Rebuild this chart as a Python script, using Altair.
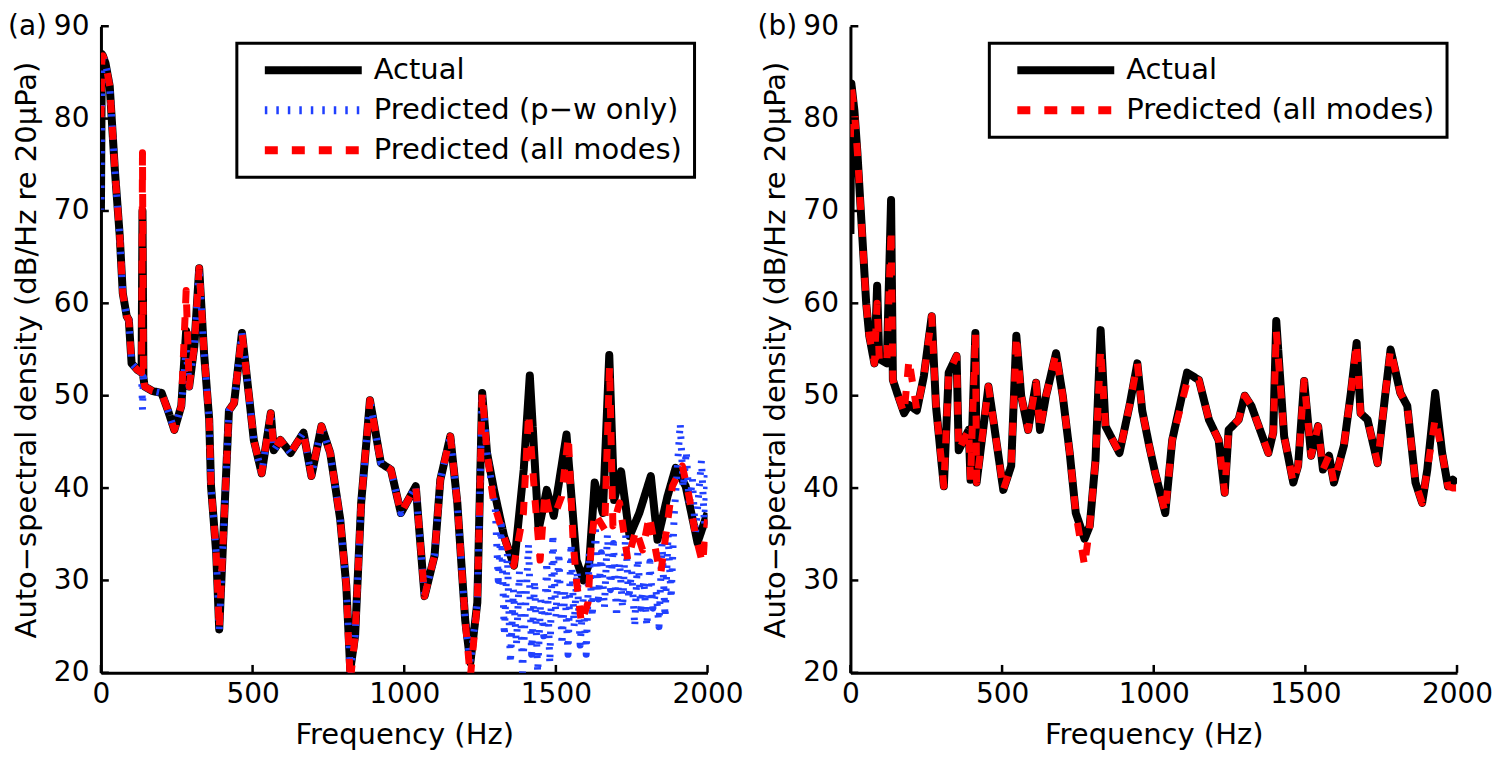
import altair as alt
import pandas as pd

FONT = "DejaVu Sans"

# ---------------- panel (a) : frequency (Hz) and level (dB)
a_actual_f = [0, 3, 6.5, 15, 29, 46, 62, 72, 85, 92, 101, 120, 134, 137, 140, 144, 170, 200, 220, 242,
              265, 281, 291, 308, 324, 340, 357, 363, 380, 390, 406, 422, 439, 465, 488, 504, 530, 560,
              570, 592, 625, 668, 694, 727, 756, 789, 809, 822, 838, 858, 887, 923, 956, 989, 1038, 1067,
              1100, 1119, 1152, 1175, 1201, 1218, 1241, 1257, 1273,
              1296, 1329, 1362, 1394, 1414, 1443, 1470, 1493, 1535, 1568, 1591, 1610, 1628, 1655, 1676,
              1692, 1715, 1743, 1775, 1813, 1835, 1868, 1895, 1928, 1967, 2000]
a_actual = [70, 87, 86.8, 86, 83.5, 74.4, 67.3, 61.1, 58.6, 58.2, 53.5, 52.8, 52.5, 70, 52, 51, 50.5, 50.3,
            48.5, 46.3, 48.9, 57, 51, 55.4, 63.8, 54.6, 47.4, 40.2, 33, 24.7, 36.6, 48.4, 49.2, 56.8, 50,
            45.2, 41.6, 48.1, 44.1, 45.2, 43.8, 46, 41.3, 46.7, 43.8, 36.6, 29.4, 20.3, 24, 38.4, 49.5,
            42.7, 42, 37.3, 40.2, 28.3, 32.7, 40.9, 45.6, 38.4, 25.7, 21.1, 27.6, 50.3, 43.8,
            39.8, 34.8, 31.6, 42, 52.2, 35.5, 39.8, 37, 45.8, 32.2, 30, 31.9, 40.6, 37.3, 54.4,
            38.7, 41.8, 34.8, 37.3, 41.3, 34.4, 39.1, 42.2, 40.2, 34.1, 37.3]

a_pw_f = [0, 3, 6.5, 15, 29, 46, 62, 72, 85, 92, 101, 120, 134, 137, 140, 144, 170, 200, 220, 242,
          265, 281, 291, 308, 324, 340, 357, 363, 380, 390, 406, 422, 439, 465, 488, 504, 530, 560,
          570, 592, 625, 668, 694, 727, 756, 789, 809, 822, 838, 858, 887, 923, 956, 989, 1038, 1067,
          1100, 1119, 1152, 1175, 1201, 1218, 1241, 1257, 1273, 1290,
          1300, 1310, 1320, 1330, 1340, 1350, 1360, 1370, 1380, 1390, 1400, 1410, 1420, 1430, 1440,
          1450, 1460, 1470, 1480, 1490, 1500, 1510, 1520, 1530, 1540, 1550, 1560, 1570, 1580, 1590,
          1600, 1610, 1620, 1630, 1640, 1650, 1660, 1670, 1680, 1690, 1700, 1710, 1720, 1730, 1740,
          1750, 1760, 1770, 1780, 1790, 1800, 1810, 1820, 1830, 1840, 1850, 1860, 1870, 1880, 1890,
          1900, 1910, 1920, 1930, 1940, 1950, 1960, 1970, 1980, 1990, 2000]
a_pw = [70, 87, 86.8, 86, 83.5, 74.4, 67.3, 61.1, 58.6, 58.2, 53.5, 52.8, 52.5, 48.5, 52, 51, 50.5, 50.3,
        48.5, 46.3, 48.9, 55, 51, 55.4, 63.8, 54.6, 47.4, 40.2, 33, 24.7, 36.6, 48.4, 49.2, 56.8, 50,
        45.2, 41.6, 48.1, 44.1, 45.2, 43.8, 46, 41.3, 46.7, 43.8, 36.6, 29.4, 20.3, 24, 38.4, 49.5,
        42.7, 42, 37.3, 40.2, 28.3, 32.7, 40.9, 45.6, 38.4, 25.7, 21.1, 27.6, 50.3, 43.8, 40,
        38, 30, 36, 24, 33, 21, 29, 23, 31, 20, 27, 34, 22, 30, 20,
        28, 24, 32, 21, 35, 26, 33, 23, 29, 22, 34, 25, 31, 23, 28,
        22, 33, 26, 36, 28, 33, 27, 35, 29, 34, 26, 32, 27, 35, 28,
        31, 25, 33, 27, 30, 25, 32, 27, 29, 25, 34, 26, 35, 28, 37,
        42, 47, 40, 44, 38, 41, 35, 39, 43, 36, 42]

a_all_f = [0, 3, 6.5, 15, 29, 46, 62, 72, 85, 92, 101, 120, 134, 137, 140, 144, 170, 200, 220, 242,
           265, 281, 291, 308, 324, 340, 357, 363, 380, 390, 406, 422, 439, 465, 488, 504, 530, 560,
           570, 592, 625, 668, 694, 727, 756, 789, 809, 822, 838, 858, 887, 923, 956, 989, 1038, 1067,
           1100, 1119, 1152, 1175, 1201, 1218, 1241, 1257, 1273,
           1295, 1328, 1361, 1393, 1410, 1432, 1448, 1464, 1481, 1502, 1519, 1541, 1557, 1568, 1584,
           1606, 1617, 1628, 1661, 1677, 1688, 1710, 1737, 1764, 1786, 1808, 1835, 1846, 1862, 1884,
           1917, 1939, 1961, 1983, 2000]
a_all = [80, 86.5, 86.8, 86, 83.5, 74.4, 67.3, 61.1, 58.6, 58.2, 53.5, 52.8, 52.5, 76.3, 52, 51, 50.5,
         50.3, 48.5, 46.3, 48.9, 61.4, 51, 55.4, 63.8, 54.6, 47.4, 40.2, 33, 24.7, 36.6, 48.4, 49.2,
         56.8, 50, 45.2, 41.6, 48.1, 44.1, 45.2, 43.8, 46, 41.3, 46.7, 43.8, 36.6, 29.4, 19, 24, 38.4,
         49.5, 42.7, 42, 37.3, 40.2, 28.3, 32.7, 40.9, 45.6, 38.4, 25.7, 19.5, 27.6, 50.3, 43.8,
         38.4, 34.8, 31.6, 37.3, 48.1, 38.4, 32.2, 39.5, 37, 37.6, 39.1, 45.6, 34.1, 30, 25.4,
         27.6, 34.1, 37.3, 35.5, 53.2, 35.9, 38.4, 32.2, 35.5, 33.3, 37, 32.2, 30.8, 34.8, 40.2,
         42.4, 39.1, 34.8, 31.9, 36.6]

# ---------------- panel (b)
b_f = [0, 3, 13, 23, 36, 52, 62, 79, 88, 95, 120, 134, 140, 154, 177, 193, 219, 242, 268, 282,
       308, 324, 350, 357, 390, 396, 412, 416, 455, 471, 504, 530, 547, 563, 586, 612, 625, 645,
       678, 700, 723, 743, 772, 789, 808, 825, 841, 887, 920, 946, 962, 985, 1005, 1038, 1061,
       1110, 1149, 1182, 1214, 1234, 1247, 1280, 1300, 1322, 1378, 1394, 1404, 1430, 1460, 1476,
       1496, 1519, 1542, 1558, 1578, 1594, 1627, 1650, 1669, 1682, 1705, 1738, 1764, 1781, 1813,
       1836, 1863, 1885, 1902, 1928, 1951, 1970, 1986, 2000]
b_actual = [67.5, 83.8, 80.9, 76.3, 69, 60, 56.5, 53.5, 61.9, 54, 53.5, 71.2, 51.7, 50.3, 48.1, 49,
            48.4, 52.1, 58.6, 48.9, 40.2, 52.5, 54.3, 44.1, 46.3, 40.9, 56.8, 40.6, 51, 47.4, 39.8,
            42.4, 56.5, 50, 46.3, 51.4, 46.3, 50, 54.6, 50, 43.8, 37.3, 34.5, 35.9, 43, 57.1, 46.7,
            43.8, 48.9, 53.5, 48.4, 44.6, 41.6, 37.3, 45.2, 52.5, 51.7, 47.4, 45.2, 39.5, 46.3, 47.4,
            50, 48.9, 43.8, 46, 58.1, 45.6, 40.6, 42.4, 51.6, 43.5, 46.7, 42, 43.5, 40.6, 44.6, 50.3,
            55.7, 48.1, 47.4, 42.7, 50.3, 55, 50.3, 48.9, 40.6, 38.4, 42, 50.3, 43.8, 40.2, 40.9, 40.5]
b_all = [78, 83.5, 80.9, 76.3, 69, 60, 56.5, 53.5, 60, 54, 53.5, 68, 51.7, 50.3, 48.1, 53.9,
         48.4, 52.1, 58.6, 48.9, 40.2, 52.5, 54.3, 44.1, 46.3, 40.9, 56.8, 40.6, 51, 47.4, 39.8,
         42.4, 56.5, 50, 46.3, 51.4, 46.3, 50, 54.6, 50, 43.8, 37.3, 31.6, 35.9, 43, 55, 46.7,
         43.8, 48.9, 53.5, 48.4, 44.6, 41.6, 37.3, 45.2, 51.5, 51.7, 47.4, 45.2, 39.5, 46.3, 47.4,
         50, 48.9, 43.8, 46, 57, 45.6, 40.6, 42.4, 51.6, 43.5, 46.7, 42, 43.5, 40.6, 44.6, 50.3,
         55.7, 48.1, 47.4, 42.7, 50.3, 55, 50.3, 48.9, 40.6, 38.4, 42, 47.5, 43.8, 40.2, 40, 40]

x_ticks = [0, 500, 1000, 1500, 2000]
y_ticks = [20, 30, 40, 50, 60, 70, 80, 90]

# series name -> (colour, dash, line width)
STYLES = {
    "Actual": ("black", [1, 0], 8),
    "Predicted (p\u2212w only)": ("#2040ff", [2.5, 9], 7),
    "Predicted (all modes)": ("red", [13, 14], 7),
}


def series_frame(name, freqs, levels):
    return pd.DataFrame({"freq": freqs, "level": levels, "series": name})


def spectrum_panel(curves, tag, legend_x, legend_y):
    names = [c[0] for c in curves]
    legend = alt.Legend(title=None, orient="none", legendX=legend_x, legendY=legend_y,
                        direction="vertical")
    colour = alt.Color("series:N", legend=legend,
                       scale=alt.Scale(domain=names, range=[STYLES[n][0] for n in names]))
    dash = alt.StrokeDash("series:N", legend=legend,
                          scale=alt.Scale(domain=names, range=[STYLES[n][1] for n in names]))
    x = alt.X("freq:Q", scale=alt.Scale(domain=[0, 2000], nice=False, zero=False),
              axis=alt.Axis(values=x_ticks, format="d", title="Frequency (Hz)", ticks=False,
                            grid=False, labelFlush=False, labelPadding=8, titlePadding=12))
    y = alt.Y("level:Q", scale=alt.Scale(domain=[20, 90], nice=False, zero=False),
              axis=alt.Axis(values=y_ticks, title="Auto\u2212spectral density (dB/Hz re 20\u03bcPa)",
                            ticks=False, grid=False, labelFlush=False, labelPadding=12,
                            titlePadding=12))

    layers = []
    for name, freqs, levels in curves:
        layers.append(
            alt.Chart(series_frame(name, freqs, levels))
            .mark_line(strokeWidth=STYLES[name][2], clip=True, strokeJoin="round")
            .encode(x=x, y=y, color=colour, strokeDash=dash)
        )

    # inward tick marks, drawn on the data scales
    xt = pd.DataFrame({"freq": x_ticks, "level": 20, "top": 20.85})
    yt = pd.DataFrame({"freq": 0, "right": 26, "level": y_ticks})
    layers.append(alt.Chart(xt).mark_rule(color="black", strokeWidth=2.5)
                  .encode(x=x, y=y, y2="top:Q"))
    layers.append(alt.Chart(yt).mark_rule(color="black", strokeWidth=2.5)
                  .encode(x=x, x2="right:Q", y=y))

    layers.append(
        alt.Chart(pd.DataFrame({"tag": [tag]}))
        .mark_text(align="left", baseline="top", fontSize=28, font=FONT, color="black")
        .encode(text="tag:N", x=alt.value(-93), y=alt.value(-13))
    )
    return alt.layer(*layers).properties(width=607, height=647)


panel_a = spectrum_panel(
    [("Actual", a_actual_f, a_actual),
     ("Predicted (p\u2212w only)", a_pw_f, a_pw),
     ("Predicted (all modes)", a_all_f, a_all)],
    "(a)", 136, 17)
panel_b = spectrum_panel(
    [("Actual", b_f, b_actual),
     ("Predicted (all modes)", b_f, b_all)],
    "(b)", 139, 17)

chart = (
    alt.hconcat(panel_a, panel_b, spacing=143, bounds="flush")
    .resolve_scale(color="independent", strokeDash="independent")
    .resolve_legend(color="independent", strokeDash="independent")
    .properties(padding={"top": 4, "left": 0, "right": 0, "bottom": 0})
    .configure_view(stroke=None)
    .configure_axis(labelFont=FONT, titleFont=FONT, labelFontSize=28, titleFontSize=29,
                    labelColor="black", titleColor="black", titleFontWeight="normal",
                    domainColor="black", domainWidth=3)
    .configure_legend(labelFont=FONT, labelFontSize=29, labelColor="black", labelLimit=400,
                      strokeColor="black", strokeWidth=3, fillColor="white", padding=12,
                      symbolType="stroke", symbolSize=9409, symbolStrokeWidth=8,
                      clipHeight=30, rowPadding=10, symbolOffset=12, labelOffset=8)
)

chart.save("out.html", embed_options={"renderer": "svg", "actions": False})
